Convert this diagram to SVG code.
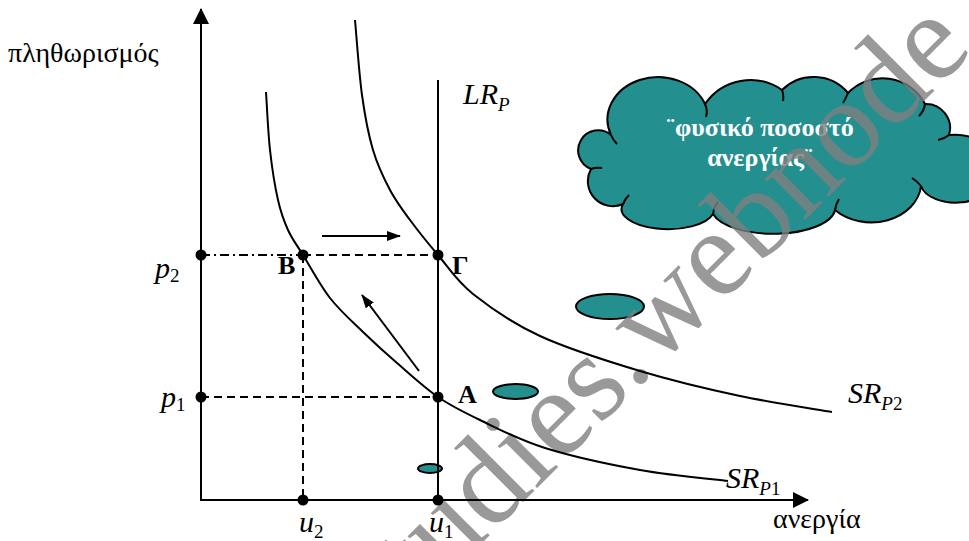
<svg xmlns="http://www.w3.org/2000/svg" width="969" height="541" viewBox="0 0 969 541">
<defs>
<style>
.ax{stroke:#000;stroke-width:2;fill:none}
.crv{stroke:#000;stroke-width:2;fill:none}
.dash{stroke:#000;stroke-width:2;stroke-dasharray:8 5;fill:none}
.dd{stroke:#000;stroke-width:2;stroke-dasharray:9 4 2 4;fill:none}
.dot{fill:#000}
.t{font-family:"Liberation Serif","Times New Roman",serif;fill:#000}
.it{font-style:italic}
.b{font-weight:bold}
.teal{fill:#238f8f;stroke:#000;stroke-width:2}
.hook{fill:none;stroke:#000;stroke-width:2}
.wm{font-family:"Liberation Serif","Times New Roman",serif;fill:#808080;opacity:0.8}
</style>
<marker id="ah" markerWidth="14" markerHeight="10" refX="13" refY="5" orient="auto" markerUnits="userSpaceOnUse"><path d="M0,0 L14,5 L0,10 Z" fill="#000"/></marker>
<marker id="axh" markerWidth="16" markerHeight="16" refX="15" refY="8" orient="auto" markerUnits="userSpaceOnUse"><path d="M0,0 L16,8 L0,16 Z" fill="#000"/></marker>
</defs>
<rect width="969" height="541" fill="#fff"/>

<g id="cloud">
<path class="teal" d="M611 135 A50 42 0 0 1 705 104 A55 55 0 0 1 782 90 A45 45 0 0 1 848 93 A48 48 0 0 1 925 104 A24 24 0 0 1 949 135 A40 30 0 0 1 990 150 L990 178 A34 20 0 0 1 921 186 A50 40 0 0 1 835 210 A62 26 0 0 1 713 214 A46 20 0 0 1 623 204 A25 25 0 0 1 591 169 A20 20 0 1 1 611 135 Z"/>
<path class="hook" d="M705 104 Q708 110 706 117 M782 90 Q784 95 783 101 M848 93 Q846 98 843 103 M925 104 Q924 111 919 116 M949 135 Q944 139 938 140 M921 186 Q917 181 912 178 M835 210 Q836 204 839 199 M713 214 Q714 207 718 202 M623 204 Q625 199 629 195 M591 169 Q596 167 602 168 M611 135 Q613 140 617 144"/>
<text class="t b" x="760" y="136" font-size="26" text-anchor="middle" style="fill:#fff">¨φυσικό ποσοστό</text>
<text class="t b" x="760" y="166" font-size="26" text-anchor="middle" style="fill:#fff">ανεργίας¨</text>
</g>

<g id="ellipses">
<ellipse class="teal" cx="610" cy="306.5" rx="34" ry="12.5"/>
<ellipse class="teal" cx="515.5" cy="391.5" rx="22.5" ry="7.5"/>
<ellipse class="teal" cx="430" cy="468.5" rx="12" ry="4.5"/>
</g>

<g id="watermark">
<text class="wm" font-size="125" transform="translate(388,637) rotate(-45)">studies.webnode</text>
</g>

<g id="axes">
<line class="ax" x1="201" y1="501" x2="201" y2="9" marker-end="url(#axh)"/>
<line class="ax" x1="200" y1="500" x2="808" y2="500" marker-end="url(#axh)"/>
<text class="t" x="8" y="62" font-size="28">πληθωρισμός</text>
<text class="t" x="773" y="528" font-size="28">ανεργία</text>
</g>

<g id="connectors">
<line class="ax" x1="438" y1="80" x2="438" y2="500"/>
<path class="crv" d="M355 20 C356.2 32.5 359 73.3 362 95 C365 116.7 368.3 134.2 373 150 C377.7 165.8 383.8 178.3 390 190 C396.2 201.7 402 209.2 410 220 C418 230.8 427.5 242.7 438 255 C448.5 267.3 456 280.5 473 294 C490 307.5 512.2 323.2 540 336 C567.8 348.8 606.7 361 640 371 C673.3 381 708 389.2 740 396 C772 402.8 816.7 409.3 832 412"/>
<path class="crv" d="M266 92 C266.7 101.7 268 132 270 150 C272 168 275 186.7 278 200 C281 213.3 283.8 220.8 288 230 C292.2 239.2 296 243.7 303 255 C310 266.3 320 285.2 330 298 C340 310.8 351.8 321.2 363 332 C374.2 342.8 384.5 352.2 397 363 C409.5 373.8 424.2 387.5 438 397 C451.8 406.5 462.2 411.5 480 420 C497.8 428.5 518.3 439.7 545 448 C571.7 456.3 609.5 464.5 640 470 C670.5 475.5 713.3 479.2 728 481"/>
<line class="dd" x1="201" y1="255" x2="303" y2="255"/>
<line class="dash" x1="303" y1="255" x2="438" y2="255"/>
<line class="dash" x1="303" y1="255" x2="303" y2="500"/>
<line class="dash" x1="201" y1="397" x2="438" y2="397"/>
<line class="ax" x1="322" y1="236" x2="400" y2="236" marker-end="url(#ah)"/>
<line class="ax" x1="419" y1="371" x2="362" y2="295" marker-end="url(#ah)"/>
</g>

<g id="points">
<circle class="dot" cx="201" cy="255" r="5.5"/>
<circle class="dot" cx="303" cy="255" r="5.5"/>
<circle class="dot" cx="438" cy="255" r="5.5"/>
<circle class="dot" cx="201" cy="397" r="5.5"/>
<circle class="dot" cx="438" cy="397" r="5.5"/>
<circle class="dot" cx="303" cy="500" r="5.5"/>
<circle class="dot" cx="438" cy="500" r="5.5"/>
</g>

<g id="labels">
<text class="t it" x="463" y="104" font-size="30">LR<tspan font-size="19" dy="7">P</tspan></text>
<text class="t it" x="848" y="403" font-size="30">SR<tspan font-size="19" dy="7">P</tspan><tspan font-size="19" font-style="normal">2</tspan></text>
<text class="t it" x="726" y="488" font-size="30">SR<tspan font-size="19" dy="7">P</tspan><tspan font-size="19" font-style="normal">1</tspan></text>
<text class="t it" x="155" y="278" font-size="30">p<tspan font-size="19" dy="4" font-style="normal">2</tspan></text>
<text class="t it" x="161" y="407" font-size="30">p<tspan font-size="19" dy="4" font-style="normal">1</tspan></text>
<text class="t it" x="299" y="532" font-size="30">u<tspan font-size="19" dy="6" font-style="normal">2</tspan></text>
<text class="t it" x="429" y="532" font-size="30">u<tspan font-size="19" dy="6" font-style="normal">1</tspan></text>
<text class="t b" x="278" y="274" font-size="26">B</text>
<text class="t b" x="452" y="274" font-size="26">Γ</text>
<text class="t b" x="458" y="403" font-size="26">A</text>
</g>
</svg>
